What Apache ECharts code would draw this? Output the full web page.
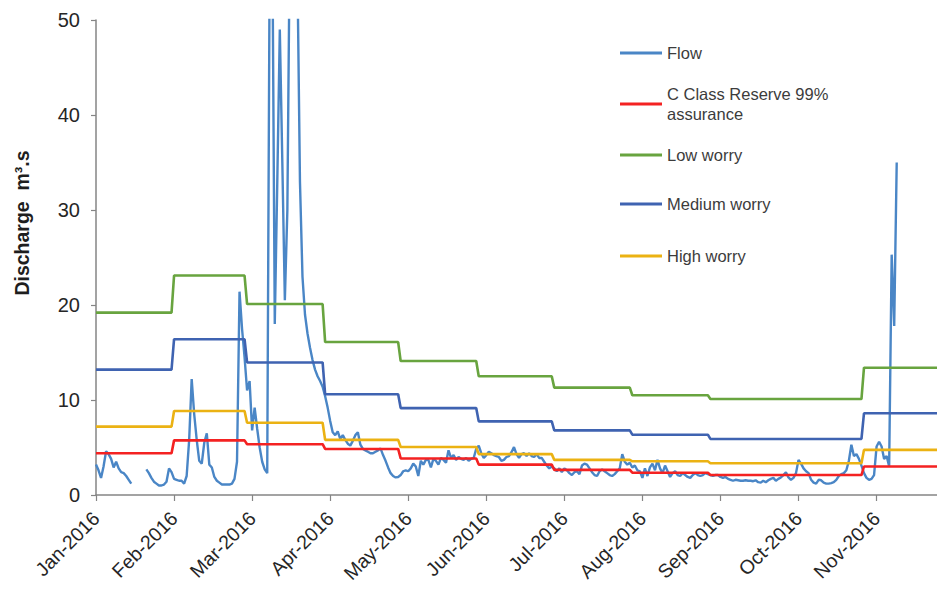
<!DOCTYPE html>
<html>
<head>
<meta charset="utf-8">
<script src="https://cdn.jsdelivr.net/npm/echarts@6.0.0/dist/echarts.min.js"></script>
<style>
html,body{margin:0;padding:0;background:#ffffff;}
#chart{width:937px;height:590px;}
</style>
</head>
<body>
<div id="chart"></div>
<script>
// ---- data ----
const monthDays = [31, 29, 31, 30, 31, 30, 31, 31, 30, 31, 30];
const tickLabels = ['Jan-2016', 'Feb-2016', 'Mar-2016', 'Apr-2016', 'May-2016', 'Jun-2016',
  'Jul-2016', 'Aug-2016', 'Sep-2016', 'Oct-2016', 'Nov-2016'];

// daily flow (m3/s) from 1 Jan 2016
const flow = [
  // Jan
  3.2, 2.6, 1.8, 3.0, 4.6, 4.3, 3.8, 2.9, 3.5, 2.8, 2.4, 2.3, 2.0, 1.6, 1.2,
  null, null, null, null, null,
  2.7, 2.3, 1.8, 1.4, 1.2, 1.0, 1.0, 1.1, 1.4, 2.8, 2.4,
  // Feb
  1.7, 1.6, 1.5, 1.5, 1.2, 2.0, 5.8, 12.2, 8.5, 5.8, 3.6, 3.3, 5.5, 6.5, 3.2,
  2.9, 1.9, 1.5, 1.3, 1.1, 1.1, 1.1, 1.1, 1.2, 1.7, 3.5, 21.4, 17.5, 14.5,
  // Mar
  11.0, 12.0, 6.8, 9.2, 7.0, 5.0, 3.5, 2.7, 2.3, 58, 60, 18, 33, 49, 35, 20.5,
  30, 60, 65, 62, 55, 33, 23, 19, 17, 15.5, 14.2, 13.2, 12.5, 12.0, 11.4,
  // Apr
  10.4, 9.2, 7.8, 6.6, 6.3, 6.7, 5.9, 6.3, 5.8, 5.4, 5.2, 5.7, 6.3, 6.6, 5.3,
  4.85, 4.7, 4.55, 4.4, 4.4, 4.55, 4.7, 4.9, 4.2, 3.6, 2.9, 2.3, 2.0, 1.85, 1.9,
  // May
  2.1, 2.5, 2.6, 2.5, 2.8, 3.3, 3.0, 2.0, 3.6, 3.2, 3.7, 3.7, 2.9, 3.8, 3.6,
  3.2, 3.9, 3.7, 3.4, 4.7, 3.9, 4.2, 3.7, 4.0, 3.8, 3.7, 3.9, 3.6, 3.8, 3.9, 4.85,
  // Jun
  5.2, 4.4, 3.9, 4.2, 4.55, 4.4, 4.2, 4.1, 4.0, 3.6, 3.7, 4.0, 4.1, 4.5, 5.05,
  4.3, 3.9, 4.3, 4.4, 4.1, 4.4, 4.1, 4.0, 4.3, 3.9, 3.9, 3.5, 3.1, 2.8, 3.0,
  // Jul
  2.8, 2.5, 2.8, 2.4, 2.8, 2.6, 2.3, 2.1, 2.4, 2.5, 2.2, 3.1, 3.3, 3.2, 2.8,
  2.4, 2.1, 2.0, 2.5, 2.7, 2.5, 2.3, 2.1, 2.0, 2.2, 2.5, 2.8, 4.3, 3.5, 3.2, 3.4,
  // Aug
  2.9, 3.1, 2.6, 2.5, 1.8, 2.8, 2.0, 2.9, 3.3, 2.6, 3.7, 2.8, 2.3, 3.1, 2.5,
  1.9, 2.3, 2.5, 2.1, 2.0, 2.3, 2.1, 1.9, 1.8, 2.1, 2.3, 2.1, 2.0, 2.1, 2.3, 2.2,
  // Sep
  2.1, 2.0, 2.1, 2.1, 1.9, 1.8, 1.9, 1.7, 1.6, 1.5, 1.6, 1.55, 1.5, 1.5, 1.55,
  1.5, 1.5, 1.45, 1.55, 1.35, 1.3, 1.5, 1.35, 1.55, 1.7, 1.8, 1.5, 1.7, 1.85, 2.1,
  // Oct
  2.4, 1.85, 1.6, 1.8, 2.3, 3.7, 3.3, 2.8, 2.5, 2.3, 1.6, 1.3, 1.2, 1.6, 1.55,
  1.3, 1.2, 1.2, 1.25, 1.35, 1.6, 2.0, 2.2, 2.3, 2.6, 3.6, 5.3, 4.1, 4.3, 3.8, 3.1,
  // Nov
  2.3, 1.8, 1.6, 1.7, 2.1, 5.1, 5.6, 5.1, 3.8, 4.1, 3.0, 25.3, 17.8, 35
];

// monthly threshold flows (Jan..Nov), held constant over each month
const reserve99 = [4.4, 5.75, 5.35, 4.85, 3.85, 3.2, 2.65, 2.35, 2.1, 2.1, 3.0];
const lowWorry = [19.2, 23.1, 20.1, 16.1, 14.1, 12.5, 11.3, 10.5, 10.1, 10.1, 13.4];
const mediumWorry = [13.2, 16.4, 13.95, 10.6, 9.15, 7.75, 6.8, 6.35, 5.9, 5.9, 8.6];
const highWorry = [7.2, 8.85, 7.6, 5.8, 5.05, 4.3, 3.7, 3.55, 3.35, 3.35, 4.75];

// ---- build ----
const categories = [];
monthDays.forEach(function (n, m) {
  for (let d = 1; d <= n; d++) {
    categories.push('2016-' + String(m + 1).padStart(2, '0') + '-' + String(d).padStart(2, '0'));
  }
});
function daily(monthly) {
  const out = [];
  monthDays.forEach(function (n, m) { for (let d = 0; d < n; d++) out.push(monthly[m]); });
  return out;
}

const FONT = "'Liberation Sans', Arial, sans-serif";
const colors = {
  flow: '#4a86c6',
  reserve: '#f42222',
  low: '#68a43f',
  medium: '#3f63b1',
  high: '#ebb213'
};

const legendText = { fontSize: 16.5, color: '#3c3c3c', fontFamily: FONT, lineHeight: 20 };
const legendBase = {
  orient: 'vertical',
  left: 615,
  icon: 'rect',
  itemWidth: 42,
  itemHeight: 3,
  itemGap: 0,
  selectedMode: false,
  textStyle: legendText
};

const chart = echarts.init(document.getElementById('chart'), null, { renderer: 'svg' });
chart.setOption({
  animation: false,
  backgroundColor: '#ffffff',
  grid: { left: 96, right: -1, top: 20, bottom: 95, containLabel: false },
  legend: [
    Object.assign({}, legendBase, { top: 38, data: ['Flow'] }),
    Object.assign({}, legendBase, {
      top: 69, data: ['C Class Reserve 99% assurance'],
      formatter: function (n) { return n.replace(' assurance', '\nassurance'); },
      textStyle: Object.assign({}, legendText, { padding: [20, 0, 0, 0] })
    }),
    Object.assign({}, legendBase, { top: 140, data: ['Low worry'] }),
    Object.assign({}, legendBase, { top: 189, data: ['Medium worry'] }),
    Object.assign({}, legendBase, { top: 241, data: ['High worry'] })
  ],
  xAxis: {
    type: 'category',
    data: categories,
    boundaryGap: false,
    axisLine: { show: true, lineStyle: { color: '#858585', width: 1.5 } },
    axisTick: { show: true, interval: 30, length: 6, lineStyle: { color: '#858585', width: 1.2 } },
    axisLabel: {
      interval: 30, rotate: 45, fontSize: 19.5, margin: 20, color: '#262626', fontFamily: FONT,
      formatter: function (v, i) { return tickLabels[Math.round(i / 31)]; }
    },
    splitLine: { show: false }
  },
  yAxis: {
    type: 'value',
    min: 0, max: 50, interval: 10,
    axisLine: { show: true, lineStyle: { color: '#858585', width: 1.5 } },
    axisTick: { show: true, length: 5, lineStyle: { color: '#858585', width: 1.2 } },
    axisLabel: { fontSize: 20, margin: 16, color: '#262626', fontFamily: FONT },
    splitLine: { show: false }
  },
  graphic: [{
    type: 'text',
    x: 22, y: 223,
    rotation: Math.PI / 2,
    style: {
      text: 'Discharge  m³.s',
      fontSize: 19.5, fontWeight: 'bold', fontFamily: FONT,
      fill: '#1e1e1e', align: 'center', verticalAlign: 'middle'
    }
  }],
  series: [
    { name: 'Flow', type: 'line', data: flow, symbol: 'none', clip: true, connectNulls: false,
      lineStyle: { color: colors.flow, width: 2.4 }, itemStyle: { color: colors.flow }, z: 2 },
    { name: 'C Class Reserve 99% assurance', type: 'line', data: daily(reserve99), symbol: 'none',
      lineStyle: { color: colors.reserve, width: 2.6 }, itemStyle: { color: colors.reserve }, z: 3 },
    { name: 'Low worry', type: 'line', data: daily(lowWorry), symbol: 'none',
      lineStyle: { color: colors.low, width: 2.6 }, itemStyle: { color: colors.low }, z: 3 },
    { name: 'Medium worry', type: 'line', data: daily(mediumWorry), symbol: 'none',
      lineStyle: { color: colors.medium, width: 2.6 }, itemStyle: { color: colors.medium }, z: 3 },
    { name: 'High worry', type: 'line', data: daily(highWorry), symbol: 'none',
      lineStyle: { color: colors.high, width: 2.6 }, itemStyle: { color: colors.high }, z: 3 }
  ]
});
</script>
</body>
</html>
